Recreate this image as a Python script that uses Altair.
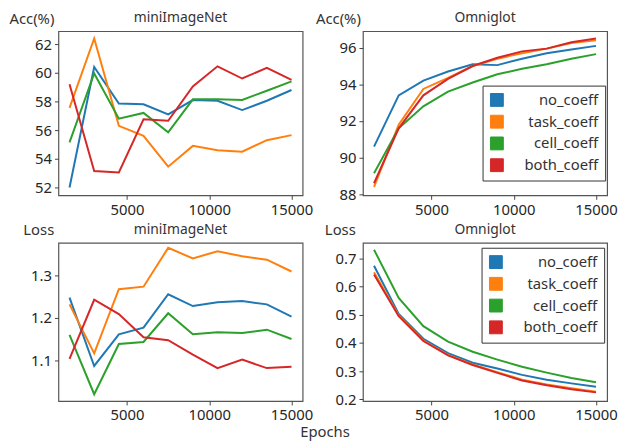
import altair as alt
import pandas as pd

epochs = [1500, 3000, 4500, 6000, 7500, 9000, 10500, 12000, 13500, 15000]
methods = ["no_coeff", "task_coeff", "cell_coeff", "both_coeff"]
colors = ["#1f77b4", "#ff7f0e", "#2ca02c", "#d62728"]

# miniImageNet accuracy
mini_acc_no = [52.0, 60.4, 57.85, 57.8, 57.1, 58.1, 58.05, 57.4, 58.05, 58.8]
mini_acc_task = [57.55, 62.4, 56.3, 55.6, 53.45, 54.9, 54.6, 54.5, 55.3, 55.65]
mini_acc_cell = [55.15, 59.95, 56.8, 57.2, 55.85, 58.15, 58.15, 58.1, 58.75, 59.4]
mini_acc_both = [59.2, 53.15, 53.05, 56.75, 56.65, 59.05, 60.45, 59.6, 60.35, 59.5]

# Omniglot accuracy
omni_acc_no = [90.6, 93.4, 94.2, 94.7, 95.1, 95.05, 95.4, 95.7, 95.9, 96.1]
omni_acc_task = [88.4, 91.8, 93.75, 94.35, 95.0, 95.4, 95.7, 95.95, 96.25, 96.4]
omni_acc_cell = [89.15, 91.6, 92.8, 93.6, 94.1, 94.55, 94.85, 95.1, 95.4, 95.65]
omni_acc_both = [88.6, 91.6, 93.4, 94.3, 95.0, 95.45, 95.8, 95.95, 96.3, 96.5]

# miniImageNet loss
mini_loss_no = [1.248, 1.086, 1.161, 1.177, 1.256, 1.228, 1.237, 1.240, 1.232, 1.203]
mini_loss_task = [1.232, 1.116, 1.268, 1.274, 1.366, 1.341, 1.358, 1.346, 1.338, 1.310]
mini_loss_cell = [1.160, 1.019, 1.138, 1.143, 1.211, 1.161, 1.166, 1.164, 1.172, 1.150]
mini_loss_both = [1.103, 1.243, 1.209, 1.154, 1.147, 1.113, 1.081, 1.101, 1.081, 1.084]

# Omniglot loss
omni_loss_no = [0.674, 0.503, 0.415, 0.364, 0.330, 0.310, 0.287, 0.270, 0.257, 0.245]
omni_loss_task = [0.651, 0.498, 0.409, 0.358, 0.324, 0.297, 0.270, 0.253, 0.240, 0.227]
omni_loss_cell = [0.731, 0.560, 0.460, 0.405, 0.369, 0.341, 0.316, 0.295, 0.276, 0.261]
omni_loss_both = [0.643, 0.495, 0.407, 0.356, 0.322, 0.294, 0.267, 0.250, 0.236, 0.225]

FONT = "Noto Sans"


def frame(series):
    rows = []
    for m, vals in zip(methods, series):
        for e, v in zip(epochs, vals):
            rows.append({"epoch": e, "method": m, "value": v})
    return pd.DataFrame(rows)


def panel(series, title, ytitle, ydomain, yvalues, yfmt, titlex, height, legend_pos=None):
    x = alt.X(
        "epoch:Q",
        scale=alt.Scale(domain=[825, 15675], nice=False, zero=False),
        axis=alt.Axis(values=[5000, 10000, 15000], format="d", title=None),
    )
    y = alt.Y(
        "value:Q",
        scale=alt.Scale(domain=ydomain, nice=False, zero=False),
        axis=alt.Axis(
            values=yvalues,
            format=yfmt,
            title=ytitle,
            titleAngle=0,
            titleAlign="left",
            titleBaseline="top",
            titleX=titlex,
            titleY=-20,
        ),
    )
    cscale = alt.Scale(domain=methods, range=colors)
    if legend_pos is None:
        legend = None
    else:
        legend = alt.Legend(
            title=None,
            orient="none",
            legendX=legend_pos[0],
            legendY=legend_pos[1],
            fillColor="white",
            strokeColor="#333333",
            padding=7,
            labelFontSize=15,
            labelFont=FONT,
            labelColor="#333333",
            labelAlign="right",
            labelOffset=95,
            symbolType="square",
            symbolSize=169,
            symbolStrokeColor="#444444",
            symbolStrokeWidth=1,
            symbolOpacity=1,
            rowPadding=5,
        )
    base = alt.Chart(frame(series))
    lines = base.mark_line(strokeWidth=2).encode(
        x=x, y=y, color=alt.Color("method:N", sort=methods, scale=cscale, legend=legend)
    )
    keys = base.mark_square(opacity=0, filled=True).encode(
        x=x, y=y, color=alt.Color("method:N", sort=methods, scale=cscale, legend=legend)
    )
    return alt.layer(lines, keys).properties(
        width=247,
        height=height,
        title=alt.TitleParams(
            title, frame="group", offset=-14, fontSize=14, fontWeight="normal",
            font=FONT, color="#333333", anchor="middle",
        ),
    )


p1 = panel([mini_acc_no, mini_acc_task, mini_acc_cell, mini_acc_both],
           "miniImageNet", "Acc(%)", [51.45, 62.9], [52, 54, 56, 58, 60, 62], "d", -50, 166)
p2 = panel([omni_acc_no, omni_acc_task, omni_acc_cell, omni_acc_both],
           "Omniglot", "Acc(%)", [87.94, 96.9], [88, 90, 92, 94, 96], "d", -48, 166,
           legend_pos=[121, 55])
p3 = panel([mini_loss_no, mini_loss_task, mini_loss_cell, mini_loss_both],
           "miniImageNet", "Loss", [1.003, 1.378], [1.1, 1.2, 1.3], ".1f", -36, 160)
p4 = panel([omni_loss_no, omni_loss_task, omni_loss_cell, omni_loss_both],
           "Omniglot", "Loss", [0.1945, 0.7555], [0.2, 0.3, 0.4, 0.5, 0.6, 0.7], ".1f", -39, 160,
           legend_pos=[120, 5])

chart = (
    alt.concat(p1, p2, p3, p4, columns=2, spacing=alt.RowColnumber(row=48, column=61), bounds="flush")
    .resolve_scale(color="independent")
    .resolve_legend(color="independent")
    .properties(
        padding={"left": 0, "top": 0, "right": 0, "bottom": 0},
        title=alt.TitleParams(
            "Epochs", orient="bottom", anchor="middle", fontSize=15,
            fontWeight="normal", font=FONT, color="#333333", offset=2, dx=12,
        ),
    )
    .configure_view(stroke="#555555", strokeWidth=1.2)
    .configure_axis(
        grid=False,
        domain=False,
        ticks=True,
        tickSize=4,
        tickColor="#444444",
        labelFontSize=15,
        labelFont=FONT,
        labelColor="#262626",
        labelPadding=3,
        titleFontSize=15,
        titleFont=FONT,
        titleFontWeight="normal",
        titleColor="#333333",
    )
)

chart.save("out.html", embed_options={"renderer": "svg", "actions": False})
